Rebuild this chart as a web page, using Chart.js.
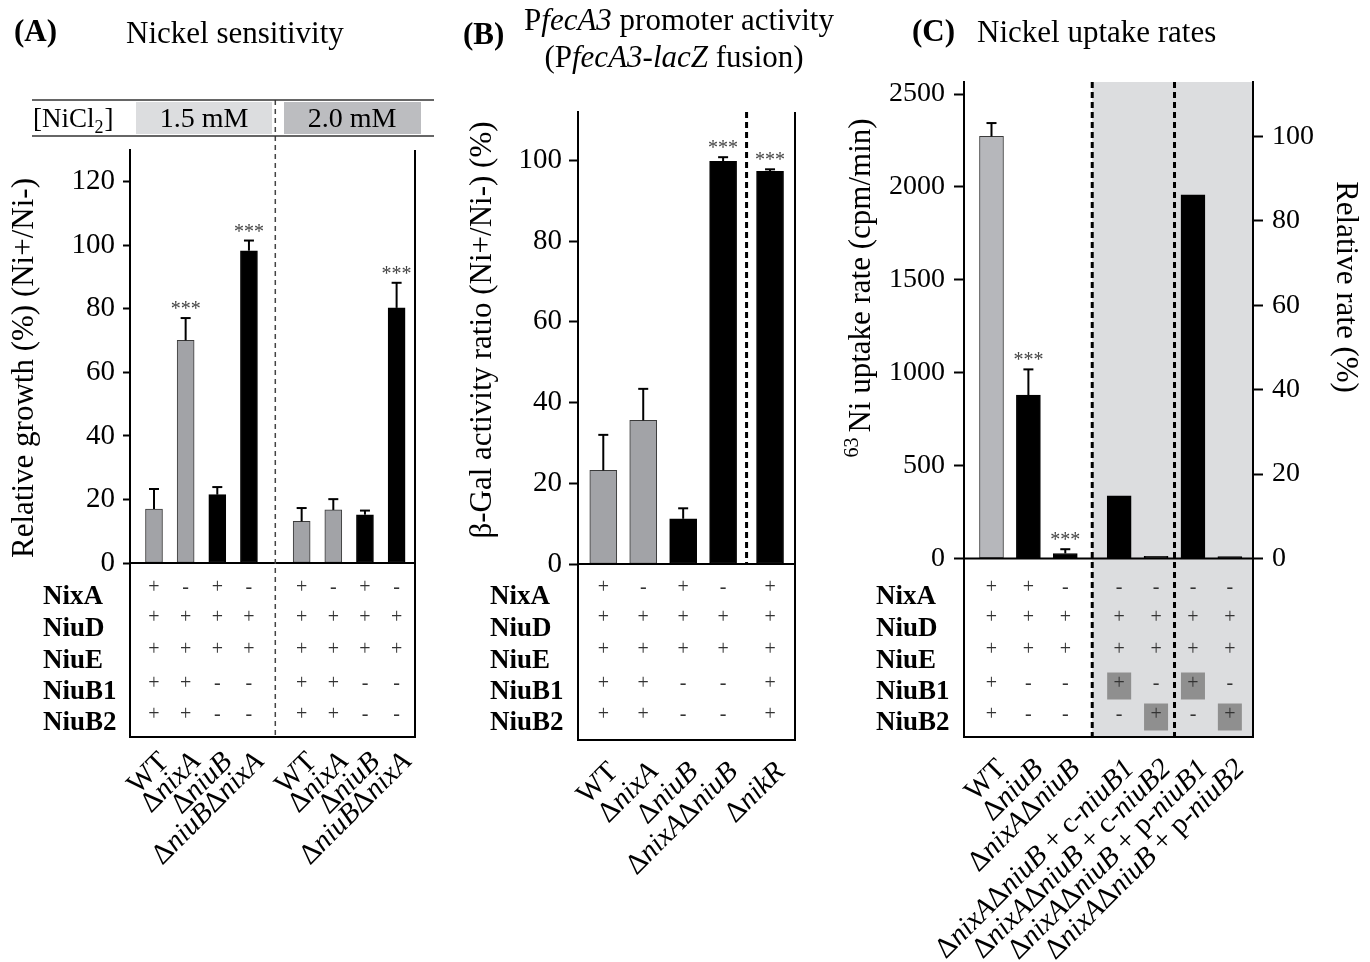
<!DOCTYPE html>
<html><head><meta charset="utf-8">
<script src="https://cdn.jsdelivr.net/npm/chart.js@4"></script>
<style>
html,body{margin:0;padding:0;background:#fff;}
#wrap{position:relative;width:1370px;height:962px;overflow:hidden;}
canvas{position:absolute;left:0;top:0;}
</style></head><body><div id="wrap">
<canvas id="cA" width="1370" height="962"></canvas>
<canvas id="cB" width="1370" height="962"></canvas>
<canvas id="cC" width="1370" height="962"></canvas>
</div>
<script>
// ---------------- DATA ----------------
const rowLabels = ['NixA','NiuD','NiuE','NiuB1','NiuB2'];

// (A) Nickel sensitivity
const A_conc = ['1.5 mM','2.0 mM'];
const A_strains = ['WT','Δ<i>nixA</i>','Δ<i>niuB</i>','Δ<i>niuB</i>Δ<i>nixA</i>','WT','Δ<i>nixA</i>','Δ<i>niuB</i>','Δ<i>niuB</i>Δ<i>nixA</i>'];
const A_values = [17, 70.1, 21.5, 98.3, 13.1, 16.7, 15.2, 80.3];
const A_errors = [6.3, 7.0, 2.4, 3.2, 4.2, 3.4, 1.3, 7.9];
const A_signif = ['', '***', '', '***', '', '', '', '***'];
const A_yTicks = [0, 20, 40, 60, 80, 100, 120];
const A_table = [
  ['+','-','+','-','+','-','+','-'],
  ['+','+','+','+','+','+','+','+'],
  ['+','+','+','+','+','+','+','+'],
  ['+','+','-','-','+','+','-','-'],
  ['+','+','-','-','+','+','-','-']
];

// (B) PfecA3 promoter activity
const B_strains = ['WT','Δ<i>nixA</i>','Δ<i>niuB</i>','Δ<i>nixA</i>Δ<i>niuB</i>','Δ<i>nikR</i>'];
const B_values = [23.2, 35.6, 11.2, 99.8, 97.3];
const B_errors = [8.8, 7.8, 2.6, 1.0, 0.5];
const B_signif = ['', '', '', '***', '***'];
const B_yTicks = [0, 20, 40, 60, 80, 100];
const B_table = [
  ['+','-','+','-','+'],
  ['+','+','+','+','+'],
  ['+','+','+','+','+'],
  ['+','+','-','-','+'],
  ['+','+','-','-','+']
];

// (C) Nickel uptake rates
const C_strains = ['WT','Δ<i>niuB</i>','Δ<i>nixA</i>Δ<i>niuB</i>',
  'Δ<i>nixA</i>Δ<i>niuB</i> + c-<i>niuB1</i>','Δ<i>nixA</i>Δ<i>niuB</i> + c-<i>niuB2</i>',
  'Δ<i>nixA</i>Δ<i>niuB</i> + p-<i>niuB1</i>','Δ<i>nixA</i>Δ<i>niuB</i> + p-<i>niuB2</i>'];
const C_values = [2272, 880, 27, 338, 12, 1958, 10];
const C_errors = [72, 138, 23, 0, 0, 0, 0];
const C_signif = ['', '***', '***', '', '', '', ''];
const C_yTicks = [0, 500, 1000, 1500, 2000, 2500];
const C_relTicks = [0, 20, 40, 60, 80, 100];
const C_table = [
  ['+','+','-','-','-','-','-'],
  ['+','+','+','+','+','+','+'],
  ['+','+','+','+','+','+','+'],
  ['+','-','-','+','-','+','-'],
  ['+','-','-','-','+','-','+']
];
const C_transComplemented = [[3,3],[4,4],[3,5],[4,6]]; // [row, column] supplied in trans

// ---------------- STYLE ----------------
const SERIF = '"Liberation Serif","Times New Roman",Times,serif';
const GRAY = '#a2a3a7', GRAY_C = '#b6b7bb', BLACK = '#000';
const A_colors = [GRAY, GRAY, BLACK, BLACK, GRAY, GRAY, BLACK, BLACK];
const B_colors = [GRAY, GRAY, BLACK, BLACK, BLACK];
const C_colors = [GRAY_C, BLACK, BLACK, BLACK, BLACK, BLACK, BLACK];

function fnt(size, it, bold){ return (it?'italic ':'') + (bold?'bold ':'') + size + 'px ' + SERIF; }
function parseRich(s){
  const out=[];
  s.split(/(<i>.*?<\/i>)/).forEach(p=>{ if(!p) return;
    if(p.startsWith('<i>')) out.push({t:p.slice(3,-4), it:true}); else out.push({t:p, it:false}); });
  return out;
}
function drawRich(ctx, s, x, y, size, align, bold){
  const segs = parseRich(s);
  let w = 0;
  segs.forEach(sg=>{ ctx.font = fnt(size, sg.it, bold); w += ctx.measureText(sg.t).width; });
  let cx = align==='right' ? x-w : align==='center' ? x-w/2 : x;
  ctx.textAlign = 'left';
  segs.forEach(sg=>{ ctx.font = fnt(size, sg.it, bold); ctx.fillText(sg.t, cx, y); cx += ctx.measureText(sg.t).width; });
}
function line(ctx, x1, y1, x2, y2, w, color, dash){
  ctx.save(); ctx.beginPath(); ctx.lineWidth = w; ctx.strokeStyle = color || '#000';
  ctx.setLineDash(dash || []); ctx.moveTo(x1, y1); ctx.lineTo(x2, y2); ctx.stroke(); ctx.restore();
}
function positions(n, gapAt, extra){ return Array.from({length:n}, (_, i) => i + (i >= gapAt ? extra : 0)); }

const signRowY = [590, 620, 652, 686, 717];
const labelRowY = [604, 636, 668, 699, 730];

function panelPlugin(p){
  return {
    id: 'panel' + p.key,
    beforeDraw(chart){
      if (p.shade) {
        const ctx = chart.ctx, xs = chart.scales.x;
        const x0 = xs.getPixelForValue((p.pos[p.shade.from-1] + p.pos[p.shade.from]) / 2);
        ctx.save(); ctx.fillStyle = '#dcdddf';
        ctx.fillRect(x0, chart.chartArea.top, chart.chartArea.right - x0, p.tableBottom - chart.chartArea.top);
        ctx.restore();
      }
    },
    afterDatasetsDraw(chart){
      const ctx = chart.ctx, ys = chart.scales.y, meta = chart.getDatasetMeta(0);
      meta.data.forEach((bar, i) => {
        const e = p.errors[i];
        let top = ys.getPixelForValue(p.values[i]);
        if (e > 0) {
          const y1 = ys.getPixelForValue(p.values[i] + e);
          line(ctx, bar.x, top, bar.x, y1, 2, '#000');
          line(ctx, bar.x - 5, y1, bar.x + 5, y1, 2, '#000');
          top = y1;
        }
        if (p.signif[i]) {
          ctx.save(); ctx.fillStyle = '#444'; ctx.font = fnt(20);
          ctx.textAlign = 'center'; ctx.textBaseline = 'alphabetic';
          ctx.fillText(p.signif[i], bar.x, top - 3); ctx.restore();
        }
      });
    },
    afterDraw(chart){
      const ctx = chart.ctx, xs = chart.scales.x, ys = chart.scales.y, a = chart.chartArea;
      const y0 = ys.getPixelForValue(0);
      const meta = chart.getDatasetMeta(0);
      // zero line + table frame
      line(ctx, a.left - 1, y0, a.right + 1, y0, 2);
      line(ctx, a.left, y0, a.left, p.tableBottom + 1, 2);
      line(ctx, a.right, p.rightLineTop != null ? p.rightLineTop : y0, a.right, p.tableBottom + 1, 2);
      line(ctx, a.left, p.tableBottom, a.right, p.tableBottom, 2);
      // separators
      p.seps.forEach(s => {
        const x = xs.getPixelForValue((p.pos[s] + p.pos[s-1]) / 2);
        line(ctx, x, p.sepTop, x, p.sepBottom, p.sepWidth, p.sepColor, p.sepDash);
      });
      // highlighted cells
      (p.highlights || []).forEach(([r, c]) => {
        ctx.save(); ctx.fillStyle = '#8f8f8f';
        ctx.fillRect(meta.data[c].x - 12, signRowY[r] - 13.5, 24, 27); ctx.restore();
      });
      // table signs
      ctx.save(); ctx.fillStyle = '#333'; ctx.font = fnt(20);
      ctx.textAlign = 'center'; ctx.textBaseline = 'middle';
      p.table.forEach((row, r) => row.forEach((s, c) => {
        ctx.fillText(s, meta.data[c].x, signRowY[r] - 2);
      }));
      ctx.restore();
      // row labels
      ctx.save(); ctx.fillStyle = '#000'; ctx.textBaseline = 'alphabetic';
      rowLabels.forEach((l, r) => { ctx.font = fnt(27, false, true); ctx.textAlign = 'left'; ctx.fillText(l, p.rowLabelX, labelRowY[r]); });
      ctx.restore();
      // x labels (rotated)
      ctx.save(); ctx.fillStyle = '#000'; ctx.textBaseline = 'alphabetic';
      p.strains.forEach((s, i) => {
        ctx.save(); ctx.translate(meta.data[i].x + 16, p.labelY); ctx.rotate(-Math.PI/4);
        drawRich(ctx, s, 0, 0, 29, 'right'); ctx.restore();
      });
      ctx.restore();
      p.extras(ctx, chart);
    }
  };
}

function makeChart(p){
  p.pos = positions(p.values.length, p.gapAt, p.gapExtra);
  const tickFmt = v => String(v);
  const scales = {
    x: {type: 'linear', display: false, min: p.xMin, max: p.xMax, offset: false},
    y: {
      position: 'left', min: 0, max: p.yMax,
      afterBuildTicks: s => { s.ticks = p.yTicks.map(v => ({value: v})); },
      afterFit: s => { s.width = p.area.left - p.padLeft; },
      border: {display: true, color: '#000', width: 2},
      grid: {display: true, drawOnChartArea: false, drawTicks: true, tickLength: p.tickLen, tickColor: '#000', tickWidth: 2, color: '#000'},
      ticks: {color: '#000', font: {family: SERIF, size: p.tickSize}, padding: p.tickPad, callback: tickFmt}
    }
  };
  if (p.y2) {
    scales.y2 = {
      position: 'right', min: 0, max: p.y2.max,
      afterBuildTicks: s => { s.ticks = p.y2.ticks.map(v => ({value: v})); },
      afterFit: s => { s.width = 1370 - p.area.right; },
      border: {display: true, color: '#000', width: 2},
      grid: {display: true, drawOnChartArea: false, drawTicks: true, tickLength: p.tickLen, tickColor: '#000', tickWidth: 2, color: '#000'},
      ticks: {color: '#000', font: {family: SERIF, size: p.tickSize}, padding: p.tickPad, callback: tickFmt}
    };
  }
  return new Chart(document.getElementById(p.canvas), {
    type: 'bar',
    data: {datasets: [{
      data: p.values.map((v, i) => ({x: p.pos[i], y: v})),
      backgroundColor: p.colors,
      borderColor: p.colors.map(c => c === BLACK ? '#000' : '#3a3a3a'),
      borderWidth: 1,
      borderSkipped: false,
      barThickness: p.barWidth,
      yAxisID: 'y'
    }]},
    options: {
      responsive: false, animation: false, devicePixelRatio: 1,
      layout: {padding: {left: p.padLeft, right: p.y2 ? 0 : 1370 - p.area.right, top: p.area.top, bottom: 962 - p.area.bottom}},
      plugins: {legend: {display: false}, tooltip: {enabled: false}},
      scales
    },
    plugins: [panelPlugin(p)]
  });
}

function rotText(ctx, txt, x, y, size, angle){
  ctx.save(); ctx.translate(x, y); ctx.rotate(angle);
  ctx.font = fnt(size); ctx.fillStyle = '#000'; ctx.textAlign = 'center'; ctx.textBaseline = 'middle';
  ctx.fillText(txt, 0, 0); ctx.restore();
}

// ---------------- PANEL A ----------------
makeChart({
  key: 'A', canvas: 'cA', strains: A_strains, values: A_values, errors: A_errors, signif: A_signif,
  table: A_table, yTicks: A_yTicks, colors: A_colors, barWidth: 17,
  gapAt: 4, gapExtra: 0.665, xMin: -0.758, xMax: 8.246, yMax: 130,
  area: {left: 130, right: 415, top: 150, bottom: 563}, padLeft: 0,
  tickLen: 7, tickPad: 8, tickSize: 29,
  tableBottom: 737, rightLineTop: 150, rowLabelX: 43, labelY: 763,
  seps: [4], sepTop: 100, sepBottom: 737, sepWidth: 1.5, sepColor: '#444', sepDash: [5, 4],
  extras(ctx){
    ctx.save();
    ctx.fillStyle = '#000'; ctx.textBaseline = 'alphabetic'; ctx.textAlign = 'left';
    ctx.font = fnt(31, false, true); ctx.fillText('(A)', 14, 41);
    ctx.font = fnt(31); ctx.fillText('Nickel sensitivity', 126, 43);
    // concentration header
    ctx.fillStyle = '#dcdddf'; ctx.fillRect(136, 102, 136, 32);
    ctx.fillStyle = '#bcbdc0'; ctx.fillRect(284, 102, 137, 32);
    line(ctx, 32, 100, 434, 100, 1.5, '#333');
    line(ctx, 32, 136, 434, 136, 1.5, '#333');
    ctx.fillStyle = '#000'; ctx.font = fnt(27); ctx.textAlign = 'left';
    ctx.fillText('[NiCl', 33, 127);
    let w = ctx.measureText('[NiCl').width;
    ctx.font = fnt(18); ctx.fillText('2', 33 + w, 133);
    let w2 = ctx.measureText('2').width;
    ctx.font = fnt(27); ctx.fillText(']', 33 + w + w2 + 1, 127);
    ctx.font = fnt(28); ctx.textAlign = 'center';
    ctx.fillText(A_conc[0], 204, 127);
    ctx.fillText(A_conc[1], 352, 127);
    ctx.restore();
    rotText(ctx, 'Relative growth (%) (Ni+/Ni-)', 25, 368, 31, -Math.PI/2);
  }
});

// ---------------- PANEL B ----------------
makeChart({
  key: 'B', canvas: 'cB', strains: B_strains, values: B_values, errors: B_errors, signif: B_signif,
  table: B_table, yTicks: B_yTicks, colors: B_colors, barWidth: 27,
  gapAt: 4, gapExtra: 0.175, xMin: -0.633, xMax: 4.8, yMax: 112,
  area: {left: 578, right: 795, top: 112, bottom: 564}, padLeft: 450,
  tickLen: 9, tickPad: 7, tickSize: 29,
  tableBottom: 740, rightLineTop: 112, rowLabelX: 490, labelY: 773,
  seps: [4], sepTop: 112, sepBottom: 564, sepWidth: 3, sepColor: '#000', sepDash: [6, 4],
  extras(ctx){
    ctx.save();
    ctx.fillStyle = '#000'; ctx.textBaseline = 'alphabetic'; ctx.textAlign = 'left';
    ctx.font = fnt(31, false, true); ctx.fillText('(B)', 463, 44);
    drawRich(ctx, 'P<i>fecA3</i> promoter activity', 679, 30, 31, 'center');
    drawRich(ctx, '(P<i>fecA3</i>-<i>lacZ</i> fusion)', 674, 67, 31, 'center');
    ctx.restore();
    rotText(ctx, 'β-Gal activity ratio (Ni+/Ni-) (%)', 483, 330, 31, -Math.PI/2);
  }
});

// ---------------- PANEL C ----------------
const C_yMax = 2565;
makeChart({
  key: 'C', canvas: 'cC', strains: C_strains, values: C_values, errors: C_errors, signif: C_signif,
  table: C_table, yTicks: C_yTicks, colors: C_colors, barWidth: 24,
  gapAt: 3, gapExtra: 0.46, xMin: -0.745, xMax: 7.087, yMax: C_yMax,
  y2: {max: C_yMax * 100 / C_values[0], ticks: C_relTicks},
  area: {left: 964, right: 1253, top: 82, bottom: 558.5}, padLeft: 830,
  tickLen: 10, tickPad: 9, tickSize: 28,
  tableBottom: 737, rightLineTop: null, rowLabelX: 876, labelY: 770,
  highlights: C_transComplemented,
  shade: {from: 3},
  seps: [3, 5], sepTop: 82, sepBottom: 737, sepWidth: 3, sepColor: '#000', sepDash: [6, 4],
  extras(ctx){
    ctx.save();
    ctx.fillStyle = '#000'; ctx.textBaseline = 'alphabetic'; ctx.textAlign = 'left';
    ctx.font = fnt(31, false, true); ctx.fillText('(C)', 912, 41);
    ctx.font = fnt(31); ctx.fillText('Nickel uptake rates', 977, 42);
    ctx.restore();
    // left axis title with superscript
    ctx.save();
    ctx.translate(862, 288); ctx.rotate(-Math.PI/2);
    ctx.fillStyle = '#000'; ctx.textBaseline = 'middle';
    ctx.font = fnt(20); const ws = ctx.measureText('63').width + 5;
    ctx.font = fnt(31); const wm = ctx.measureText('Ni uptake rate (cpm/min)').width;
    const start = -(ws + wm) / 2;
    ctx.textAlign = 'left';
    ctx.font = fnt(20); ctx.fillText('63', start, -9);
    ctx.font = fnt(31); ctx.fillText('Ni uptake rate (cpm/min)', start + ws, 0);
    ctx.restore();
    rotText(ctx, 'Relative rate (%)', 1345, 287, 31, Math.PI/2);
  }
});
</script>
</body></html>
